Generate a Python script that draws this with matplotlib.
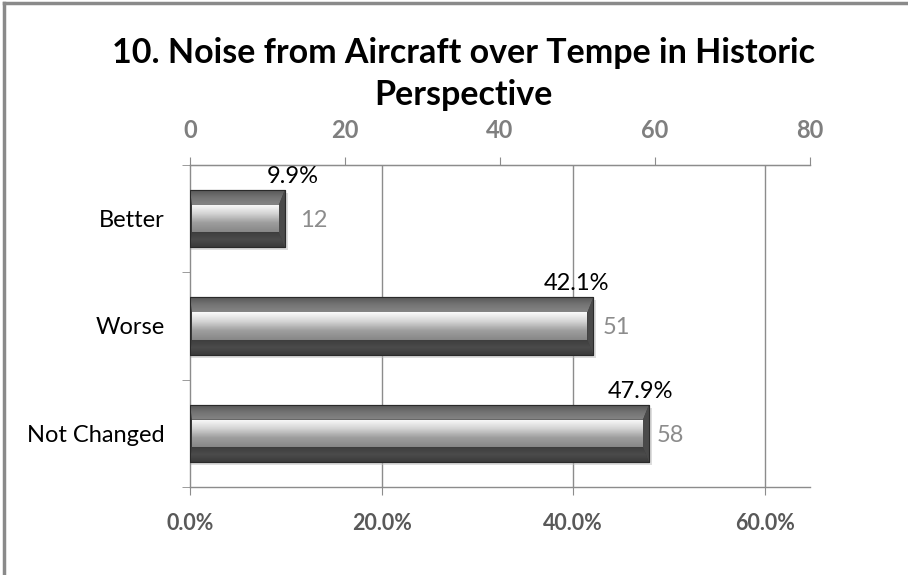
import matplotlib
matplotlib.use("Agg")
import matplotlib.pyplot as plt
import numpy as np
from matplotlib.patches import Polygon, Rectangle
from matplotlib.colors import LinearSegmentedColormap
import matplotlib.transforms as mtransforms

# ---------------- data ----------------
title = "10. Noise from Aircraft over Tempe in Historic\nPerspective"
categories = ["Better", "Worse", "Not Changed"]
percents = [9.9, 42.1, 47.9]
counts = [12, 51, 58]
pct_ticks = [0, 20, 40, 60]
pct_tick_labels = ["0.0%", "20.0%", "40.0%", "60.0%"]
count_ticks = [0, 20, 40, 60, 80]
pct_max = 64.7
count_max = 80

# ---------------- style ----------------
FONT = "Lato"
W, H = 908, 575
fig = plt.figure(figsize=(W / 100, H / 100), dpi=100)
fig.patch.set_facecolor("white")

L, R, T, B = 190, 810, 165, 487
ax = fig.add_axes([L / W, 1 - B / H, (R - L) / W, (B - T) / H])
ax.set_xlim(0, pct_max)
ax.set_ylim(len(categories) - 0.5, -0.5)

px_x = pct_max / (R - L)          # data units per pixel (x)
px_y = len(categories) / (B - T)  # data units per pixel (y)

grid_col = "#8c8c8c"
for t in pct_ticks[1:]:
    ax.axvline(t, color=grid_col, lw=1.0, zorder=0)

ax.spines["right"].set_visible(False)
for s in ["left", "bottom", "top"]:
    ax.spines[s].set_color(grid_col)
    ax.spines[s].set_linewidth(1.0)

ax.set_xticks(pct_ticks)
ax.set_xticklabels(pct_tick_labels, fontfamily=FONT, fontweight="bold",
                   fontsize=15.5, color="#595959")
ax.tick_params(axis="x", direction="out", length=5.5, color=grid_col, pad=13)

ax.set_yticks(range(len(categories)))
ax.set_yticklabels(categories, fontfamily=FONT, fontsize=17, color="#000000")
ax.tick_params(axis="y", length=0, pad=18)
ax.set_yticks(np.arange(-0.5, len(categories), 1.0), minor=True)
ax.tick_params(axis="y", which="minor", direction="out", length=5.5, color=grid_col)

bar_h = 0.535
bars = ax.barh(range(len(categories)), percents, height=bar_h,
               color="#3c3c3c", edgecolor="#2a2a2a", lw=0.8, zorder=3)

grad_cmap_face = LinearSegmentedColormap.from_list("face", ["#fbfbfb", "#d4d4d4", "#9e9e9e", "#878787"])
grad_cmap_top = LinearSegmentedColormap.from_list("top", ["#575757", "#747474", "#858585"])
grad_cmap_bot = LinearSegmentedColormap.from_list("bot", ["#3e3e3e", "#4b4b4b", "#3a3a3a"])


def grad_fill(poly_pts, x0, x1, ytop, ybot, cmap, z):
    poly = Polygon(poly_pts, closed=True, facecolor="none", edgecolor="none", zorder=z)
    ax.add_patch(poly)
    g = np.linspace(0, 1, 64).reshape(-1, 1)
    im = ax.imshow(g, extent=(x0, x1, ybot, ytop), origin="upper", aspect="auto",
                   cmap=cmap, zorder=z, interpolation="bilinear")
    im.set_clip_path(poly)


for rect in bars:
    v = rect.get_width()
    yt = rect.get_y()
    yb = yt + rect.get_height()
    bev_t = 15 * px_y
    bev_b = 15 * px_y
    bev_r = 6 * px_x
    bev_l = 2 * px_x
    # soft shadow
    ax.add_patch(Rectangle((0, yt + 3 * px_y), v + 3 * px_x, yb - yt,
                           facecolor="#bdbdbd", edgecolor="none", alpha=0.5, zorder=2))
    # top bevel
    grad_fill([(0, yt), (v, yt), (v - bev_r, yt + bev_t), (bev_l, yt + bev_t)],
              0, v, yt, yt + bev_t, grad_cmap_top, 4)
    # bottom bevel
    grad_fill([(0, yb), (v, yb), (v - bev_r, yb - bev_b), (bev_l, yb - bev_b)],
              0, v, yb - bev_b, yb, grad_cmap_bot, 4)
    # right bevel
    ax.add_patch(Polygon([(v, yt), (v, yb), (v - bev_r, yb - bev_b), (v - bev_r, yt + bev_t)],
                         closed=True, facecolor="#4a4a4a", edgecolor="none", zorder=4))
    # inner face
    grad_fill([(bev_l, yt + bev_t), (v - bev_r, yt + bev_t), (v - bev_r, yb - bev_b),
               (bev_l, yb - bev_b)],
              bev_l, v - bev_r, yt + bev_t, yb - bev_b, grad_cmap_face, 5)
    # outline
    ax.add_patch(Rectangle((0, yt), v, yb - yt, facecolor="none",
                           edgecolor="#2a2a2a", lw=0.8, zorder=6))

ax.set_xlim(0, pct_max)
ax.set_ylim(len(categories) - 0.5, -0.5)

# percentage labels above bars
pct_dx = [8, -17, -9]
for i, (rect, p) in enumerate(zip(bars, percents)):
    tr = ax.transData + mtransforms.ScaledTranslation(pct_dx[i] / 100, 7 / 100, fig.dpi_scale_trans)
    ax.text(rect.get_width(), rect.get_y(), f"{p:.1f}%", transform=tr,
            ha="center", va="baseline", fontfamily=FONT, fontsize=17, color="#000000", zorder=7)

# secondary (count) axis on top
ax2 = ax.twiny()
ax2.set_xlim(0, count_max)
ax2.set_xticks(count_ticks)
ax2.set_xticklabels([str(c) for c in count_ticks], fontfamily=FONT, fontweight="bold",
                    fontsize=17, color="#7f7f7f")
ax2.tick_params(axis="x", direction="out", length=5.5, color=grid_col, pad=11)
for s in ["right", "left", "bottom"]:
    ax2.spines[s].set_visible(False)
ax2.spines["top"].set_color(grid_col)

# count labels, positioned on the count axis
count_trans = mtransforms.blended_transform_factory(
    ax2.transData + mtransforms.ScaledTranslation(17 / 100, 0, fig.dpi_scale_trans), ax.transData)
for i, c in enumerate(counts):
    ax.text(c, i, str(c), transform=count_trans, ha="left", va="center_baseline",
            fontfamily=FONT, fontsize=17, color="#8c8c8c", zorder=7)

fig.text(463 / W, 1 - 74 / H, title, ha="center", va="center", fontfamily=FONT,
         fontweight="bold", fontsize=24.5, linespacing=1.38, color="#000000")

# outer frame (left and top edges)
fig.add_artist(plt.Line2D([4 / W, 4 / W], [0, 1 - 3 / H], transform=fig.transFigure,
                          color="#8a8a8a", lw=2.5))
fig.add_artist(plt.Line2D([4 / W, 1], [1 - 3 / H, 1 - 3 / H], transform=fig.transFigure,
                          color="#8a8a8a", lw=2.5))

fig.savefig("out.png", dpi=100)
